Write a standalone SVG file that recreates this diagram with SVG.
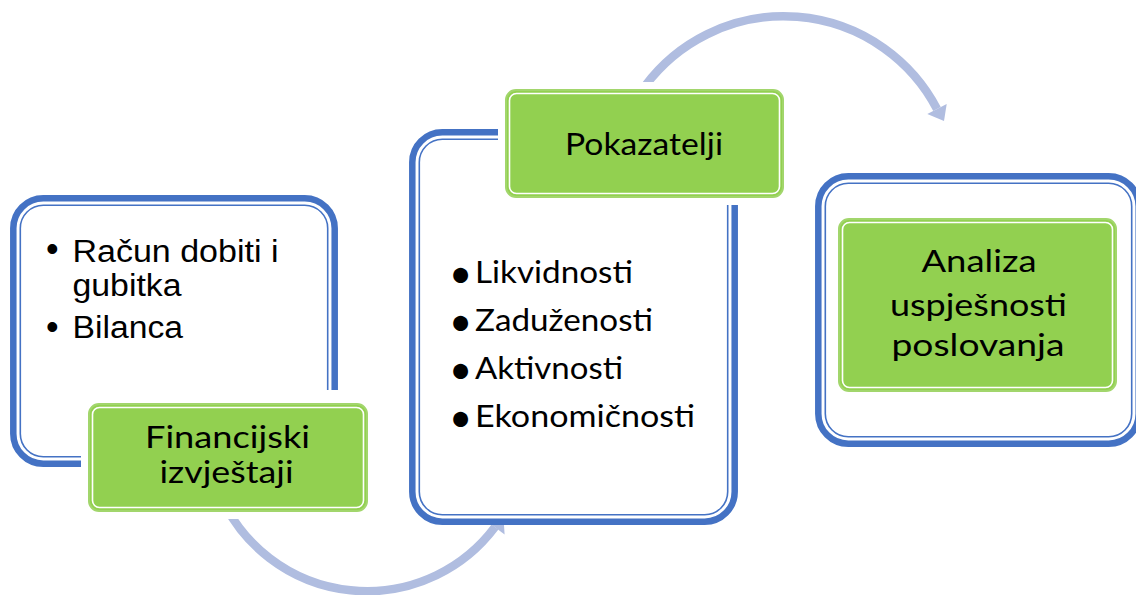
<svg xmlns="http://www.w3.org/2000/svg" width="1136" height="595" viewBox="0 0 1136 595">
<style>
.bg{fill:#ffffff}
.outer{fill:#ffffff;stroke:#4472C4;stroke-width:6.5}
.inner{fill:none;stroke:#4472C4;stroke-width:1.6}
.pad{fill:#ffffff}
.gbox{fill:#92D050;stroke:#A2D66C;stroke-width:2}
.gin{fill:none;stroke:#ffffff;stroke-width:1.6}
.arc{fill:none;stroke:#B0BDE0;stroke-width:8.5}
.head{fill:#B0BDE0}
.ar{font-family:"Liberation Sans",Arial,sans-serif;font-size:31px;fill:#000000}
.arb{font-family:"Liberation Sans",Arial,sans-serif;font-size:36px;fill:#000000}
.ca{font-family:Lato,"Open Sans",sans-serif;font-size:30px;fill:#000000}
.bul{font-family:Lato,"Open Sans",sans-serif;font-size:40px;fill:#000000}
</style>
<rect class="bg" x="0" y="0" width="1136" height="595"/>
<g id="connectors">
  <path class="arc" d="M 222 499 A 160 160 0 0 0 495 527"/>
  <polygon class="head" points="485.4,520.1 504.6,534.5 503.4,515.8"/>
  <path class="arc" d="M 645 86 A 173 173 0 0 1 937 109"/>
  <polygon class="head" points="927.3,114.1 946.7,103.9 944,121"/>
</g>
<g id="node-financijski">
  <rect class="outer" x="13.3" y="198.3" width="321.4" height="265.4" rx="30"/>
  <rect class="inner" x="20.3" y="205.3" width="307.4" height="251.4" rx="23"/>
  <text class="arb" x="46" y="261">•</text>
  <text class="ar" x="72.5" y="262" textLength="206" lengthAdjust="spacingAndGlyphs">Račun dobiti i</text>
  <text class="ar" x="72.5" y="296" textLength="109" lengthAdjust="spacingAndGlyphs">gubitka</text>
  <text class="arb" x="46" y="339">•</text>
  <text class="ar" x="72.5" y="338" textLength="110.5" lengthAdjust="spacingAndGlyphs">Bilanca</text>
  <rect class="pad" x="81" y="390" width="294" height="129"/>
  <rect class="gbox" x="89" y="404" width="278" height="107" rx="10"/>
  <rect class="gin" x="92.5" y="407.5" width="271" height="100" rx="7"/>
  <text class="ca" x="145" y="448" textLength="165" lengthAdjust="spacingAndGlyphs">Financijski</text>
  <text class="ca" x="159.5" y="483" textLength="134" lengthAdjust="spacingAndGlyphs">izvještaji</text>
</g>
<g id="node-pokazatelji">
  <rect class="outer" x="412.3" y="132.3" width="322.4" height="389.4" rx="30"/>
  <rect class="inner" x="419.3" y="139.3" width="308.4" height="375.4" rx="23"/>
  <text class="bul" x="449" y="288">•</text>
  <text class="ca" x="475" y="283" textLength="158" lengthAdjust="spacingAndGlyphs">Likvidnosti</text>
  <text class="bul" x="449" y="336">•</text>
  <text class="ca" x="475" y="331" textLength="178" lengthAdjust="spacingAndGlyphs">Zaduženosti</text>
  <text class="bul" x="449" y="384">•</text>
  <text class="ca" x="475" y="379" textLength="148" lengthAdjust="spacingAndGlyphs">Aktivnosti</text>
  <text class="bul" x="449" y="432">•</text>
  <text class="ca" x="475" y="427" textLength="220" lengthAdjust="spacingAndGlyphs">Ekonomičnosti</text>
  <rect class="pad" x="498" y="82" width="293" height="123"/>
  <rect class="gbox" x="506" y="90" width="277" height="107" rx="10"/>
  <rect class="gin" x="509.5" y="93.5" width="270" height="100" rx="7"/>
  <text class="ca" x="565" y="155" textLength="158" lengthAdjust="spacingAndGlyphs">Pokazatelji</text>
</g>
<g id="node-analiza">
  <rect class="outer" x="818.3" y="176.3" width="320.4" height="267.4" rx="30"/>
  <rect class="inner" x="825.3" y="183.3" width="306.4" height="253.4" rx="23"/>
  <rect class="gbox" x="839" y="219" width="277" height="172" rx="10"/>
  <rect class="gin" x="842.5" y="222.5" width="270" height="165" rx="7"/>
  <text class="ca" x="921.5" y="272" textLength="115" lengthAdjust="spacingAndGlyphs">Analiza</text>
  <text class="ca" x="890" y="316" textLength="177" lengthAdjust="spacingAndGlyphs">uspješnosti</text>
  <text class="ca" x="891.5" y="356" textLength="173" lengthAdjust="spacingAndGlyphs">poslovanja</text>
</g>
</svg>
